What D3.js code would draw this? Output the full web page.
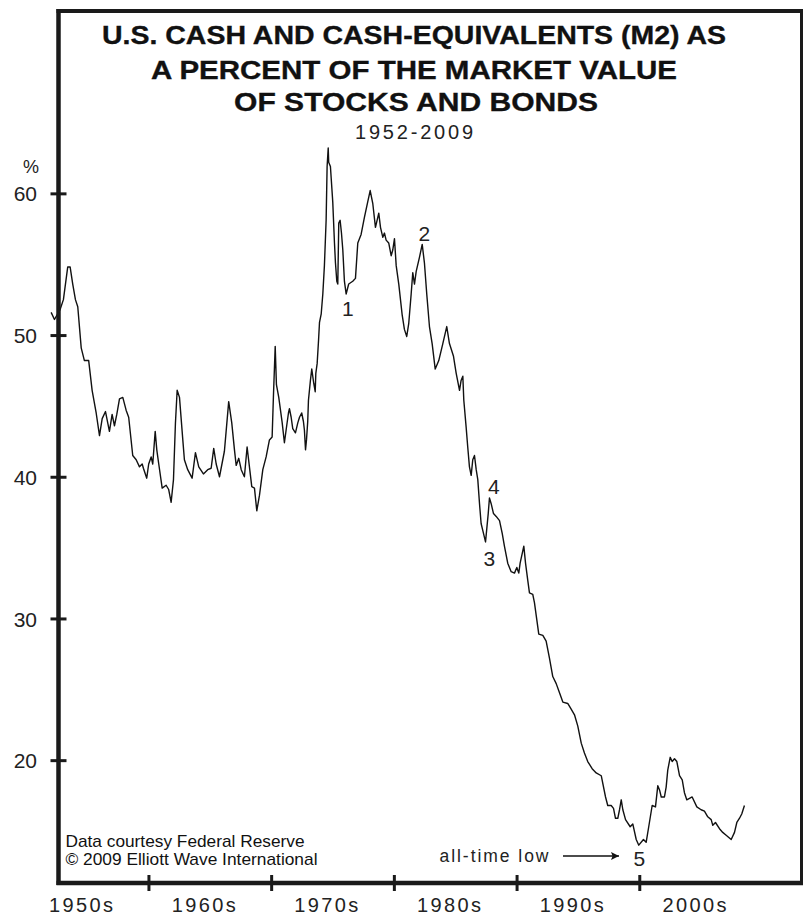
<!DOCTYPE html>
<html><head><meta charset="utf-8">
<script src="https://cdn.jsdelivr.net/npm/d3@7"></script>
<style>
html,body{margin:0;padding:0;background:#fff;}
svg{display:block;}
text{font-family:"Liberation Sans",Arial,Helvetica,sans-serif;}
</style></head>
<body>
<script>
// ---------- DATA ----------
const years = [1952.07,1952.34,1952.80,1953.07,1953.42,1953.62,1953.83,1954.05,1954.24,1954.52,1954.78,1955.13,1955.41,1955.74,1956.01,1956.23,1956.50,1956.82,1957.04,1957.23,1957.42,1957.64,1957.91,1958.18,1958.39,1958.72,1959.00,1959.27,1959.49,1959.59,1959.86,1960.02,1960.22,1960.35,1960.55,1960.68,1960.84,1961.12,1961.44,1961.65,1961.85,1962.04,1962.20,1962.34,1962.53,1962.80,1962.93,1963.20,1963.56,1963.83,1964.10,1964.48,1964.83,1965.11,1965.32,1965.52,1965.79,1966.19,1966.41,1966.54,1966.79,1967.01,1967.15,1967.36,1967.56,1967.82,1968.04,1968.23,1968.42,1968.64,1968.83,1969.05,1969.32,1969.59,1969.86,1970.08,1970.19,1970.33,1970.43,1970.62,1970.90,1971.08,1971.22,1971.41,1971.49,1971.63,1971.76,1971.98,1972.17,1972.31,1972.49,1972.63,1972.71,1972.80,1972.88,1972.98,1973.04,1973.20,1973.31,1973.47,1973.59,1973.64,1973.75,1973.86,1973.94,1974.08,1974.21,1974.34,1974.48,1974.56,1974.65,1974.69,1974.83,1975.02,1975.16,1975.24,1975.35,1975.43,1975.51,1975.62,1975.73,1975.84,1975.97,1976.11,1976.32,1976.65,1976.87,1977.06,1977.33,1977.60,1977.87,1978.07,1978.28,1978.50,1978.77,1978.91,1979.10,1979.23,1979.37,1979.58,1979.78,1979.91,1980.05,1980.19,1980.40,1980.68,1980.86,1981.05,1981.21,1981.41,1981.54,1981.68,1981.82,1982.09,1982.31,1982.49,1982.68,1982.90,1983.12,1983.37,1983.66,1983.99,1984.31,1984.53,1984.86,1985.08,1985.35,1985.48,1985.62,1985.70,1985.89,1986.02,1986.16,1986.30,1986.43,1986.57,1986.71,1986.84,1986.98,1987.11,1987.25,1987.47,1987.69,1987.79,1987.93,1988.12,1988.34,1988.61,1988.83,1989.01,1989.28,1989.56,1989.83,1990.02,1990.18,1990.29,1990.59,1990.73,1990.91,1991.05,1991.32,1991.46,1991.65,1991.81,1992.14,1992.41,1992.68,1992.95,1993.23,1993.44,1993.77,1994.17,1994.45,1994.72,1994.99,1995.27,1995.53,1995.80,1996.16,1996.49,1996.90,1997.25,1997.43,1997.71,1997.90,1998.06,1998.25,1998.39,1998.53,1998.66,1998.88,1999.26,1999.47,1999.75,1999.96,2000.34,2000.56,2000.77,2001.05,2001.32,2001.51,2001.65,2001.79,2002.05,2002.19,2002.32,2002.52,2002.68,2002.87,2003.06,2003.28,2003.50,2003.68,2003.87,2004.09,2004.31,2004.69,2005.04,2005.31,2005.58,2005.86,2005.99,2006.21,2006.59,2006.80,2007.08,2007.49,2007.76,2007.95,2008.17,2008.35,2008.57];
const values = [51.6,51.1,51.8,52.5,54.8,54.8,53.6,52.5,52.0,49.1,48.2,48.2,46.1,44.5,42.9,44.1,44.6,43.2,44.4,43.6,44.4,45.5,45.6,44.7,44.2,41.5,41.2,40.7,40.9,40.6,39.9,40.9,41.4,40.9,43.2,41.9,40.9,39.2,39.4,39.1,38.2,39.8,43.8,46.1,45.6,42.6,41.2,40.5,39.9,41.7,40.7,40.2,40.5,40.6,42.0,40.9,40.0,41.8,44.0,45.3,43.8,41.9,40.8,41.3,40.5,40.0,42.1,40.7,39.3,39.2,37.6,38.7,40.5,41.4,42.6,42.8,45.8,49.2,46.5,45.6,43.8,42.4,43.3,44.5,44.8,44.2,43.4,43.1,43.8,44.2,44.5,43.9,43.3,41.9,42.6,43.9,45.4,46.8,47.6,46.6,46.0,47.3,48.0,49.6,50.9,51.5,52.9,54.9,58.1,61.9,63.2,62.2,61.9,59.4,56.5,55.1,53.8,53.6,57.9,58.1,57.2,56.0,53.8,52.9,53.6,53.8,54.0,56.5,57.1,58.3,59.4,60.2,59.3,57.6,58.6,57.6,56.9,57.2,56.7,56.5,55.6,56.0,56.8,54.9,53.6,51.4,50.4,49.9,50.8,52.9,54.4,53.6,54.5,55.5,56.4,55.1,52.9,50.6,49.4,47.6,48.2,49.4,50.6,49.4,48.5,47.3,46.1,46.8,47.1,45.4,43.5,42.1,40.7,40.1,41.2,41.5,40.5,39.8,38.1,36.7,36.2,35.4,37.4,38.5,38.1,37.4,37.2,36.9,36.0,35.1,33.9,33.3,33.2,33.6,33.2,33.9,35.1,33.9,32.7,31.8,31.7,31.1,29.9,28.9,28.8,28.4,27.2,25.9,25.4,24.9,24.1,24.0,23.6,23.2,22.4,21.2,20.5,19.9,19.4,19.1,18.9,17.4,16.8,16.8,16.6,15.9,15.9,16.5,17.2,16.5,15.8,15.3,15.5,14.4,14.0,14.4,14.2,15.3,16.8,16.7,18.2,17.9,17.4,17.4,18.1,19.3,20.2,19.9,20.1,19.9,18.9,18.6,17.7,17.2,17.3,17.4,16.7,16.5,16.4,16.0,15.8,15.4,15.6,15.1,14.9,14.7,14.4,14.9,15.6,15.9,16.2,16.8];

const yTicks = [20, 30, 40, 50, 60];
const xTickYears = [1960, 1970, 1980, 1990, 2000];
const decadeLabels = ["1950s", "1960s", "1970s", "1980s", "1990s", "2000s"];
const decadeStarts = [1950, 1960, 1970, 1980, 1990, 2000];

const waveLabels = ["1", "2", "3", "4", "5"];
const waveYears = [1976.24, 1982.49, 1987.79, 1988.14, 2000.0];
const waveValues = [51.88, 57.18, 34.24, 39.34, 13.09];

const titleLines = ["U.S. CASH AND CASH-EQUIVALENTS (M2) AS", "A PERCENT OF THE MARKET VALUE", "OF STOCKS AND BONDS"];
const subtitle = "1952-2009";
const sourceLines = ["Data courtesy Federal Reserve", "\u00A9 2009 Elliott Wave International"];
const lowNote = "all-time low";

// ---------- LAYOUT ----------
const W = 806, H = 916;
const L = 58.5, R = 801.5, T = 11, B = 883;

const svg = d3.select("body").append("svg").attr("width", W).attr("height", H);

const x = d3.scaleLinear().domain([1952.67, 2013.22]).range([L, R]);
const y = d3.scaleLinear().domain([11.33, 72.87]).range([B, T]);

// frame (top & right)
svg.append("line").attr("x1", L - 2).attr("x2", R + 1.5).attr("y1", T).attr("y2", T)
  .attr("stroke", "#1a1a1a").attr("stroke-width", 4);
svg.append("line").attr("x1", R).attr("x2", R).attr("y1", T).attr("y2", B)
  .attr("stroke", "#1a1a1a").attr("stroke-width", 3);

// data line
const line = d3.line().x((d, i) => x(years[i])).y((d, i) => y(values[i]));
svg.append("path").datum(values).attr("d", line)
  .attr("fill", "none").attr("stroke", "#111").attr("stroke-width", 1.4)
  .attr("stroke-linejoin", "round");

// Y axis
const yAxis = d3.axisLeft(y).tickValues(yTicks).tickSize(8).tickPadding(14).tickFormat(d3.format("d"));
const gy = svg.append("g").attr("transform", `translate(${L},0)`).call(yAxis);
gy.select(".domain").remove();
gy.selectAll(".tick line").attr("x1", -8).attr("x2", 8).attr("stroke", "#1a1a1a").attr("stroke-width", 3);
gy.selectAll(".tick text").attr("font-size", 21).attr("fill", "#222").attr("x", -21.5).attr("dy", "0.36em")
  .style("font-family", "Liberation Sans, Arial, sans-serif");
svg.append("line").attr("x1", L).attr("x2", L).attr("y1", T - 2).attr("y2", B + 2)
  .attr("stroke", "#1a1a1a").attr("stroke-width", 4.5);
svg.append("text").attr("x", 31).attr("y", y(61.86)).attr("dy", "0.36em").attr("text-anchor", "middle")
  .attr("font-size", 18).attr("fill", "#222").text("%");

// X axis
const xAxis = d3.axisBottom(x).tickValues(xTickYears).tickSize(8).tickFormat("");
const gx = svg.append("g").attr("transform", `translate(0,${B})`).call(xAxis);
gx.select(".domain").remove();
gx.selectAll(".tick line").attr("y1", -8).attr("y2", 8).attr("stroke", "#1a1a1a").attr("stroke-width", 3);
svg.append("line").attr("x1", L - 2).attr("x2", R + 1.5).attr("y1", B).attr("y2", B)
  .attr("stroke", "#1a1a1a").attr("stroke-width", 4.5);

svg.append("g").selectAll("text").data(decadeLabels).join("text")
  .attr("x", (d, i) => x(decadeStarts[i] + 4.5)).attr("y", 912)
  .attr("text-anchor", "middle").attr("font-size", 20).attr("fill", "#222")
  .attr("textLength", 64).attr("lengthAdjust", "spacing")
  .text(d => d);

// Title
const titleG = svg.append("g");
const baselines = [44, 78.5, 111];
const widths = [624, 526, 364];
const centers = [414, 414, 416];
titleLines.forEach((t, i) => titleG.append("text")
  .attr("x", centers[i] - widths[i] / 2).attr("y", baselines[i])
  .attr("font-size", 26.5).attr("font-weight", "bold")
  .attr("fill", "#111").attr("stroke", "#111").attr("stroke-width", 0.35)
  .attr("textLength", widths[i]).attr("lengthAdjust", "spacingAndGlyphs")
  .text(t));

svg.append("text").attr("x", 414).attr("y", 139).attr("text-anchor", "middle")
  .attr("font-size", 20).attr("fill", "#222").attr("textLength", 118).attr("lengthAdjust", "spacing")
  .text(subtitle);

// wave labels
svg.append("g").selectAll("text").data(waveLabels).join("text")
  .attr("x", (d, i) => x(waveYears[i])).attr("y", (d, i) => y(waveValues[i]))
  .attr("dy", "0.36em").attr("text-anchor", "middle").attr("font-size", 21).attr("fill", "#222")
  .text(d => d);

// source
const srcLens = [239, 252];
svg.append("g").selectAll("text").data(sourceLines).join("text")
  .attr("x", 65.5).attr("y", (d, i) => 846.5 + i * 18.5)
  .attr("font-size", 17).attr("fill", "#111")
  .attr("textLength", (d, i) => srcLens[i]).attr("lengthAdjust", "spacingAndGlyphs")
  .text(d => d);

// all-time low note + arrow
svg.append("text").attr("x", 439.5).attr("y", 862).attr("font-size", 17.5).attr("fill", "#222")
  .attr("textLength", 109).attr("lengthAdjust", "spacing").text(lowNote);
svg.append("defs").append("marker").attr("id", "ah").attr("viewBox", "0 0 10 10")
  .attr("refX", 10).attr("refY", 5).attr("markerWidth", 17).attr("markerHeight", 8)
  .attr("markerUnits", "userSpaceOnUse").attr("orient", "auto")
  .append("path").attr("d", "M0,0 L10,5 L0,10 L2,5 Z").attr("fill", "#111");
svg.append("line").attr("x1", 563).attr("x2", 619).attr("y1", 856).attr("y2", 856)
  .attr("stroke", "#111").attr("stroke-width", 1.6).attr("marker-end", "url(#ah)");
</script>
</body></html>
